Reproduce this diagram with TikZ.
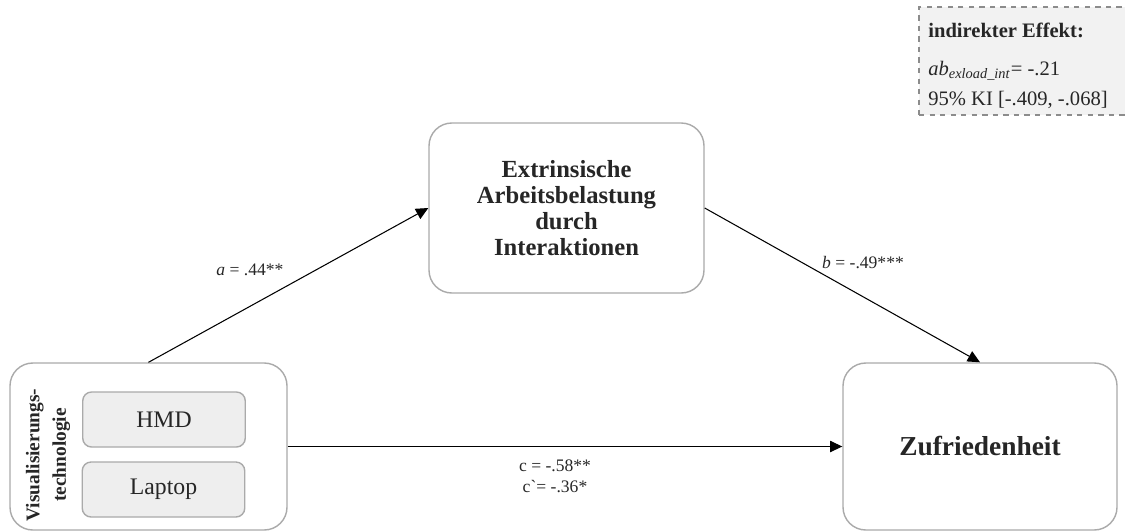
\documentclass[tikz,border=0pt]{standalone}
\usepackage{fontspec}
\setmainfont{Liberation Serif}
\usetikzlibrary{arrows.meta, positioning, calc}
\definecolor{boxline}  {RGB}{170, 170, 170}
\definecolor{groupfill}{RGB}{238, 238, 238}
\definecolor{infofill} {RGB}{242, 242, 242}
\definecolor{textcol}  {RGB}{38, 38, 38}
\tikzset{
	varblock/.style={
		rectangle, rounded corners=13pt,
		minimum width=5.5cm, minimum height=3.4cm,
		align=center, text=textcol,
		draw=boxline, line width=0.8pt, fill=white
	},
	groupblock/.style={
		rectangle, rounded corners=5pt,
		minimum width=3.25cm, minimum height=1.1cm,
		font=\fontsize{13.5}{15}\selectfont, text=textcol,
		draw=boxline, line width=0.8pt, fill=groupfill
	},
	arrow/.style={
		-{Triangle[length=7pt, width=6.5pt]}, line width=0.6pt, color=black
	},
	coeff/.style={
		font=\fontsize{10}{12}\selectfont, text=textcol, align=center
	},
	infobox/.style={
		draw=black!45, dashed, line width=0.6pt, fill=infofill,
		minimum width=4.32cm, minimum height=2.16cm
	},
	infoline/.style={
		anchor=base west, inner sep=0pt, text=textcol,
		font=\fontsize{11.7}{14}\selectfont
	}
}
\begin{document}
\begin{tikzpicture}
		\useasboundingbox (0,0) rectangle (22.5,-10.62);
		
		%% ═══════════════════════════════
		%%  MEDIATOR
		%% ═══════════════════════════════
		\node[varblock, font=\fontsize{14}{14.9}\selectfont\bfseries] (med) at (11.33,-4.16)
		{Extrinsische\\Arbeitsbelastung\\durch\\Interaktionen};
		
		%% ═══════════════════════════════
		%%  PREDICTOR + OUTCOME
		%% ═══════════════════════════════
		\node[varblock, minimum width=5.54cm, minimum height=3.34cm] (tech) at (2.97,-8.93) {};
		\node[groupblock] (hmd)    at (3.28,-8.39) {HMD};
		\node[groupblock] (laptop) at (3.27,-9.79) {Laptop};
		\node[rotate=90, align=center, text=textcol,
		font=\fontsize{11}{15}\selectfont\bfseries] (techlabel) at (0.96,-9.1)
		{Visualisierungs-\\technologie};
		
		\node[varblock, minimum width=5.48cm, minimum height=3.34cm,
		font=\fontsize{15.6}{18}\selectfont\bfseries] (satis) at (19.6,-8.93) {Zufriedenheit};
		
		%% ═══════════════════════════════
		%%  ARROWS
		%% ═══════════════════════════════
		\draw[arrow] (tech.north) -- (med.west);
		\draw[arrow] (med.east) -- (satis.north);
		\draw[arrow] (tech.east) -- (satis.west);
		
		% path coefficients
		\node[coeff] (coefa) at (5.0,-5.4)   {\textit{a} = .44**};
		\node[coeff] (coefb) at (17.26,-5.26) {\textit{b} = -.49***};
		\node[coeff] (coefc) at (11.1,-9.52)
		{c = -.58**\\c\textasciigrave= -.36*};
		
		%% ═══════════════════════════════
		%%  INDIRECT EFFECT
		%% ═══════════════════════════════
		\node[infobox] (indirect) at (20.54,-1.22) {};
		\node[infoline] (indhead) at (18.56,-0.74) {\textbf{indirekter Effekt:}};
		\node[infoline] (indab)   at (18.56,-1.51)
		{\textit{ab}\textsubscript{\textit{exload\_int}}= -.21};
		\node[infoline] (indci)   at (18.56,-2.1) {95\% KI [-.409, -.068]};
	\end{tikzpicture}
\end{document}
